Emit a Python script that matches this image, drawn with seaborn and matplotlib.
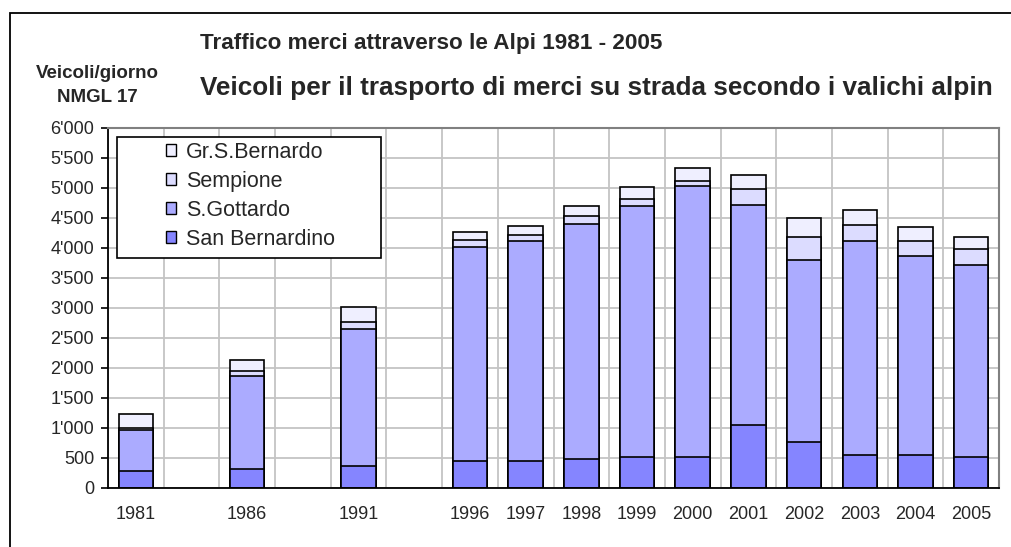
import numpy as np
import pandas as pd
import matplotlib
matplotlib.use("Agg")
import matplotlib.pyplot as plt
from matplotlib.patches import Rectangle, Patch
from matplotlib.ticker import FuncFormatter, MultipleLocator
import seaborn as sns

# ---- data ----
slots = ["1981", " ", "1986", "  ", "1991", "   ", "1996", "1997", "1998", "1999",
         "2000", "2001", "2002", "2003", "2004", "2005"]
years = ["1981", "1986", "1991", "1996", "1997", "1998", "1999", "2000",
         "2001", "2002", "2003", "2004", "2005"]
san_bernardino = [280, 310, 370, 450, 450, 480, 515, 510, 1055, 770, 550, 550, 510]
s_gottardo     = [690, 1560, 2285, 3560, 3670, 3920, 4180, 4530, 3670, 3035, 3570, 3320, 3215]
sempione       = [30, 75, 115, 120, 95, 130, 115, 80, 255, 375, 260, 255, 260]
gr_s_bernardo  = [230, 195, 255, 140, 145, 170, 200, 210, 235, 320, 260, 230, 195]
series_names = ["San Bernardino", "S.Gottardo", "Sempione", "Gr.S.Bernardo"]
colors = ["#8585FF", "#ABABFF", "#DCDCFF", "#EFEFFF"]

df = pd.DataFrame({"year": years, "San Bernardino": san_bernardino,
                   "S.Gottardo": s_gottardo, "Sempione": sempione,
                   "Gr.S.Bernardo": gr_s_bernardo})
cum = df[series_names].cumsum(axis=1)

sns.set_style("white")
plt.rcParams["font.family"] = ["Liberation Sans", "DejaVu Sans"]

W, H = 1011, 547
fig = plt.figure(figsize=(W / 100, H / 100), dpi=100)
ax = fig.add_axes([108 / W, 1 - 488 / H, 891 / W, 360 / H])
ax.set_axisbelow(True)

# stacked bars: draw cumulative totals from top series down
for name, col in reversed(list(zip(series_names, colors))):
    sub = pd.DataFrame({"year": df["year"], "val": cum[name]})
    sns.barplot(data=sub, x="year", y="val", order=slots, color=col,
                saturation=1, edgecolor="black", linewidth=1.2, width=0.62, ax=ax)

ax.set_xlim(-0.5, len(slots) - 0.5)
ax.set_ylim(0, 6000)
ax.set_xlabel("")
ax.set_ylabel("")

# ticks / grid
ax.yaxis.set_major_locator(MultipleLocator(500))
ax.yaxis.set_major_formatter(FuncFormatter(lambda v, p: f"{int(v):,}".replace(",", "'")))
ax.set_xticks(range(len(slots)))
ax.set_xticklabels([s.strip() for s in slots])
ax.set_xticks(np.arange(-0.5, len(slots), 1.0), minor=True)
ax.tick_params(axis="x", which="major", length=0, pad=13, labelsize=13)
ax.tick_params(axis="x", which="minor", length=4, width=1.2, color="black", direction="out")
ax.tick_params(axis="y", which="major", length=5, width=1.2, color="black",
               direction="out", pad=5, labelsize=13, left=True)
ax.grid(True, axis="y", which="major", color="#C4C4C4", linewidth=1.3)
ax.grid(True, axis="x", which="minor", color="#C4C4C4", linewidth=1.3)
ax.grid(False, axis="x", which="major")

for side in ["left", "bottom"]:
    ax.spines[side].set_color("black")
    ax.spines[side].set_linewidth(1.3)
for side in ["top", "right"]:
    ax.spines[side].set_visible(True)
    ax.spines[side].set_color("#808080")
    ax.spines[side].set_linewidth(1.5)

# legend with its own frame
ax.add_patch(Rectangle((9 / 891, (488 - 258) / 360), 264 / 891, 121 / 360,
                       transform=ax.transAxes, facecolor="white",
                       edgecolor="black", linewidth=1.2, zorder=5))
handles = [Patch(facecolor=c, edgecolor="black", linewidth=1.0, label=n)
           for n, c in zip(series_names, colors)][::-1]
leg = ax.legend(handles=handles, loc="upper left",
                bbox_to_anchor=((166 - 108) / 891, (488 - 142) / 360),
                frameon=False, fontsize=15.5, handlelength=0.47, handleheight=0.47,
                handletextpad=0.45, labelspacing=0.37, borderpad=0, borderaxespad=0)
leg.set_zorder(6)

# titles
fig.text(200 / W, 1 - 44 / H, "Traffico merci attraverso le Alpi 1981 - 2005",
         fontsize=16.2, fontweight="bold", va="center", ha="left")
fig.text(200 / W, 1 - 88 / H,
         "Veicoli per il trasporto di merci su strada secondo i valichi alpin",
         fontsize=18.8, fontweight="bold", va="center", ha="left")
fig.text(97 / W, 1 - 73 / H, "Veicoli/giorno", fontsize=13.5, fontweight="bold",
         va="center", ha="center")
fig.text(97 / W, 1 - 98 / H, "NMGL 17", fontsize=13.5, fontweight="bold",
         va="center", ha="center")

# outer frame
fig.patches.append(Rectangle((10 / W, -0.1), 1.2, 1.1 - 13 / H, transform=fig.transFigure,
                             fill=False, edgecolor="black", linewidth=1.3, clip_on=False))

fig.savefig("out.png", dpi=100, facecolor="white")
